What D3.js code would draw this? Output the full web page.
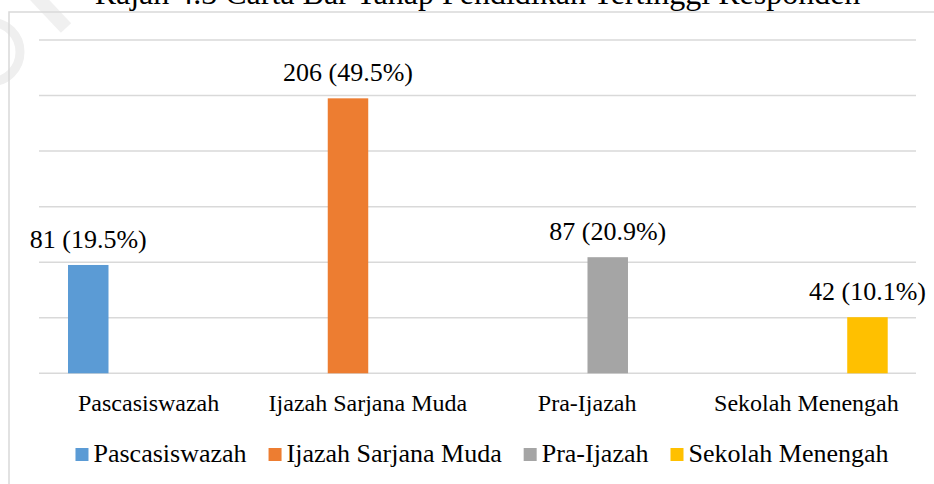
<!DOCTYPE html>
<html>
<head>
<meta charset="utf-8">
<script src="https://cdn.jsdelivr.net/npm/d3@7/dist/d3.min.js"></script>
<style>
  html, body { margin: 0; padding: 0; background: #fff; }
  svg { display: block; }
</style>
</head>
<body>
<svg id="chart" width="934" height="484"></svg>
<script>
// ---- data ----
const categories = ["Pascasiswazah", "Ijazah Sarjana Muda", "Pra-Ijazah", "Sekolah Menengah"];
const counts = [81, 206, 87, 42];
const percents = [19.5, 49.5, 20.9, 10.1];
const yTicks = [0, 10, 20, 30, 40, 50, 60];
const colors = ["#5B9BD5", "#ED7D31", "#A5A5A5", "#FFC000"];
const titleText = "Rajah 4.3 Carta Bar Tahap Pendidikan Tertinggi Responden";

const FONT = "'Liberation Serif', 'Times New Roman', Times, serif";
const svg = d3.select("#chart").style("font-family", FONT);
const plot = { left: 39, right: 916, top: 40, bottom: 373.3 };

function styleText(sel, size) {
  return sel.style("font-family", FONT).style("font-size", size + "px").attr("fill", "#000");
}

// faint watermark traces
svg.append("line").attr("x1", 34).attr("y1", -6).attr("x2", 66).attr("y2", 28)
  .attr("stroke", "#f0f0f0").attr("stroke-width", 14);
svg.append("circle").attr("cx", -10).attr("cy", 52).attr("r", 30)
  .attr("fill", "none").attr("stroke", "#efefef").attr("stroke-width", 9);

// chart border
svg.append("rect").attr("x", 9).attr("y", 12).attr("width", 1000).attr("height", 600)
  .attr("fill", "none").attr("stroke", "#d9d9d9").attr("stroke-width", 1.5);

// title (cut at the top edge, as in the reference)
styleText(svg.append("text").attr("x", 477.5).attr("y", 4).attr("text-anchor", "middle"), 32)
  .text(titleText);

// scales
const x0 = d3.scaleBand().domain(categories).range([plot.left, plot.right]).padding(0);
const bw = x0.bandwidth();
const x1 = d3.scaleBand().domain(d3.range(categories.length)).range([bw * 0.1323, bw * 0.871]).padding(0);
const y = d3.scaleLinear().domain([0, 60]).range([plot.bottom, plot.top]);

// gridlines
svg.append("g").selectAll("line").data(yTicks).join("line")
  .attr("x1", plot.left).attr("x2", plot.right)
  .attr("y1", d => y(d)).attr("y2", d => y(d))
  .attr("stroke", "#d9d9d9").attr("stroke-width", 1.5);

// bars
const data = categories.map((c, i) => ({ c, i, n: counts[i], p: percents[i] }));
svg.append("g").selectAll("rect").data(data).join("rect")
  .attr("x", d => x0(d.c) + x1(d.i))
  .attr("width", x1.bandwidth())
  .attr("y", d => y(d.p))
  .attr("height", d => y(0) - y(d.p))
  .attr("fill", d => colors[d.i]);

// data labels
styleText(svg.append("g").selectAll("text").data(data).join("text")
  .attr("x", d => x0(d.c) + x1(d.i) + x1.bandwidth() / 2)
  .attr("y", d => y(d.p) - 17)
  .attr("text-anchor", "middle"), 26)
  .text(d => `${d.n} (${d.p.toFixed(1)}%)`);

// x axis labels
const xAxis = d3.axisBottom(x0).tickSize(0).tickPadding(0);
const gx = svg.append("g").attr("transform", `translate(0,${plot.bottom})`).call(xAxis)
  .attr("font-family", null).attr("font-size", null);
gx.select(".domain").remove();
styleText(gx.selectAll("text").attr("dy", null).attr("y", 38), 24);

// legend
const legend = svg.append("g");
const items = legend.selectAll("g").data(categories).join("g");
items.append("rect").attr("width", 13).attr("height", 13).attr("y", -14)
  .attr("fill", (d, i) => colors[i]);
styleText(items.append("text").attr("x", 18).attr("y", 0), 26).text(d => d);
let cx = 0;
const gap = 22;
items.each(function () {
  const g = d3.select(this);
  const tw = g.select("text").node().getComputedTextLength();
  g.attr("transform", `translate(${cx},0)`);
  cx += 18 + tw + gap;
});
const total = cx - gap;
legend.attr("transform", `translate(${482 - total / 2},462)`);
</script>
</body>
</html>
